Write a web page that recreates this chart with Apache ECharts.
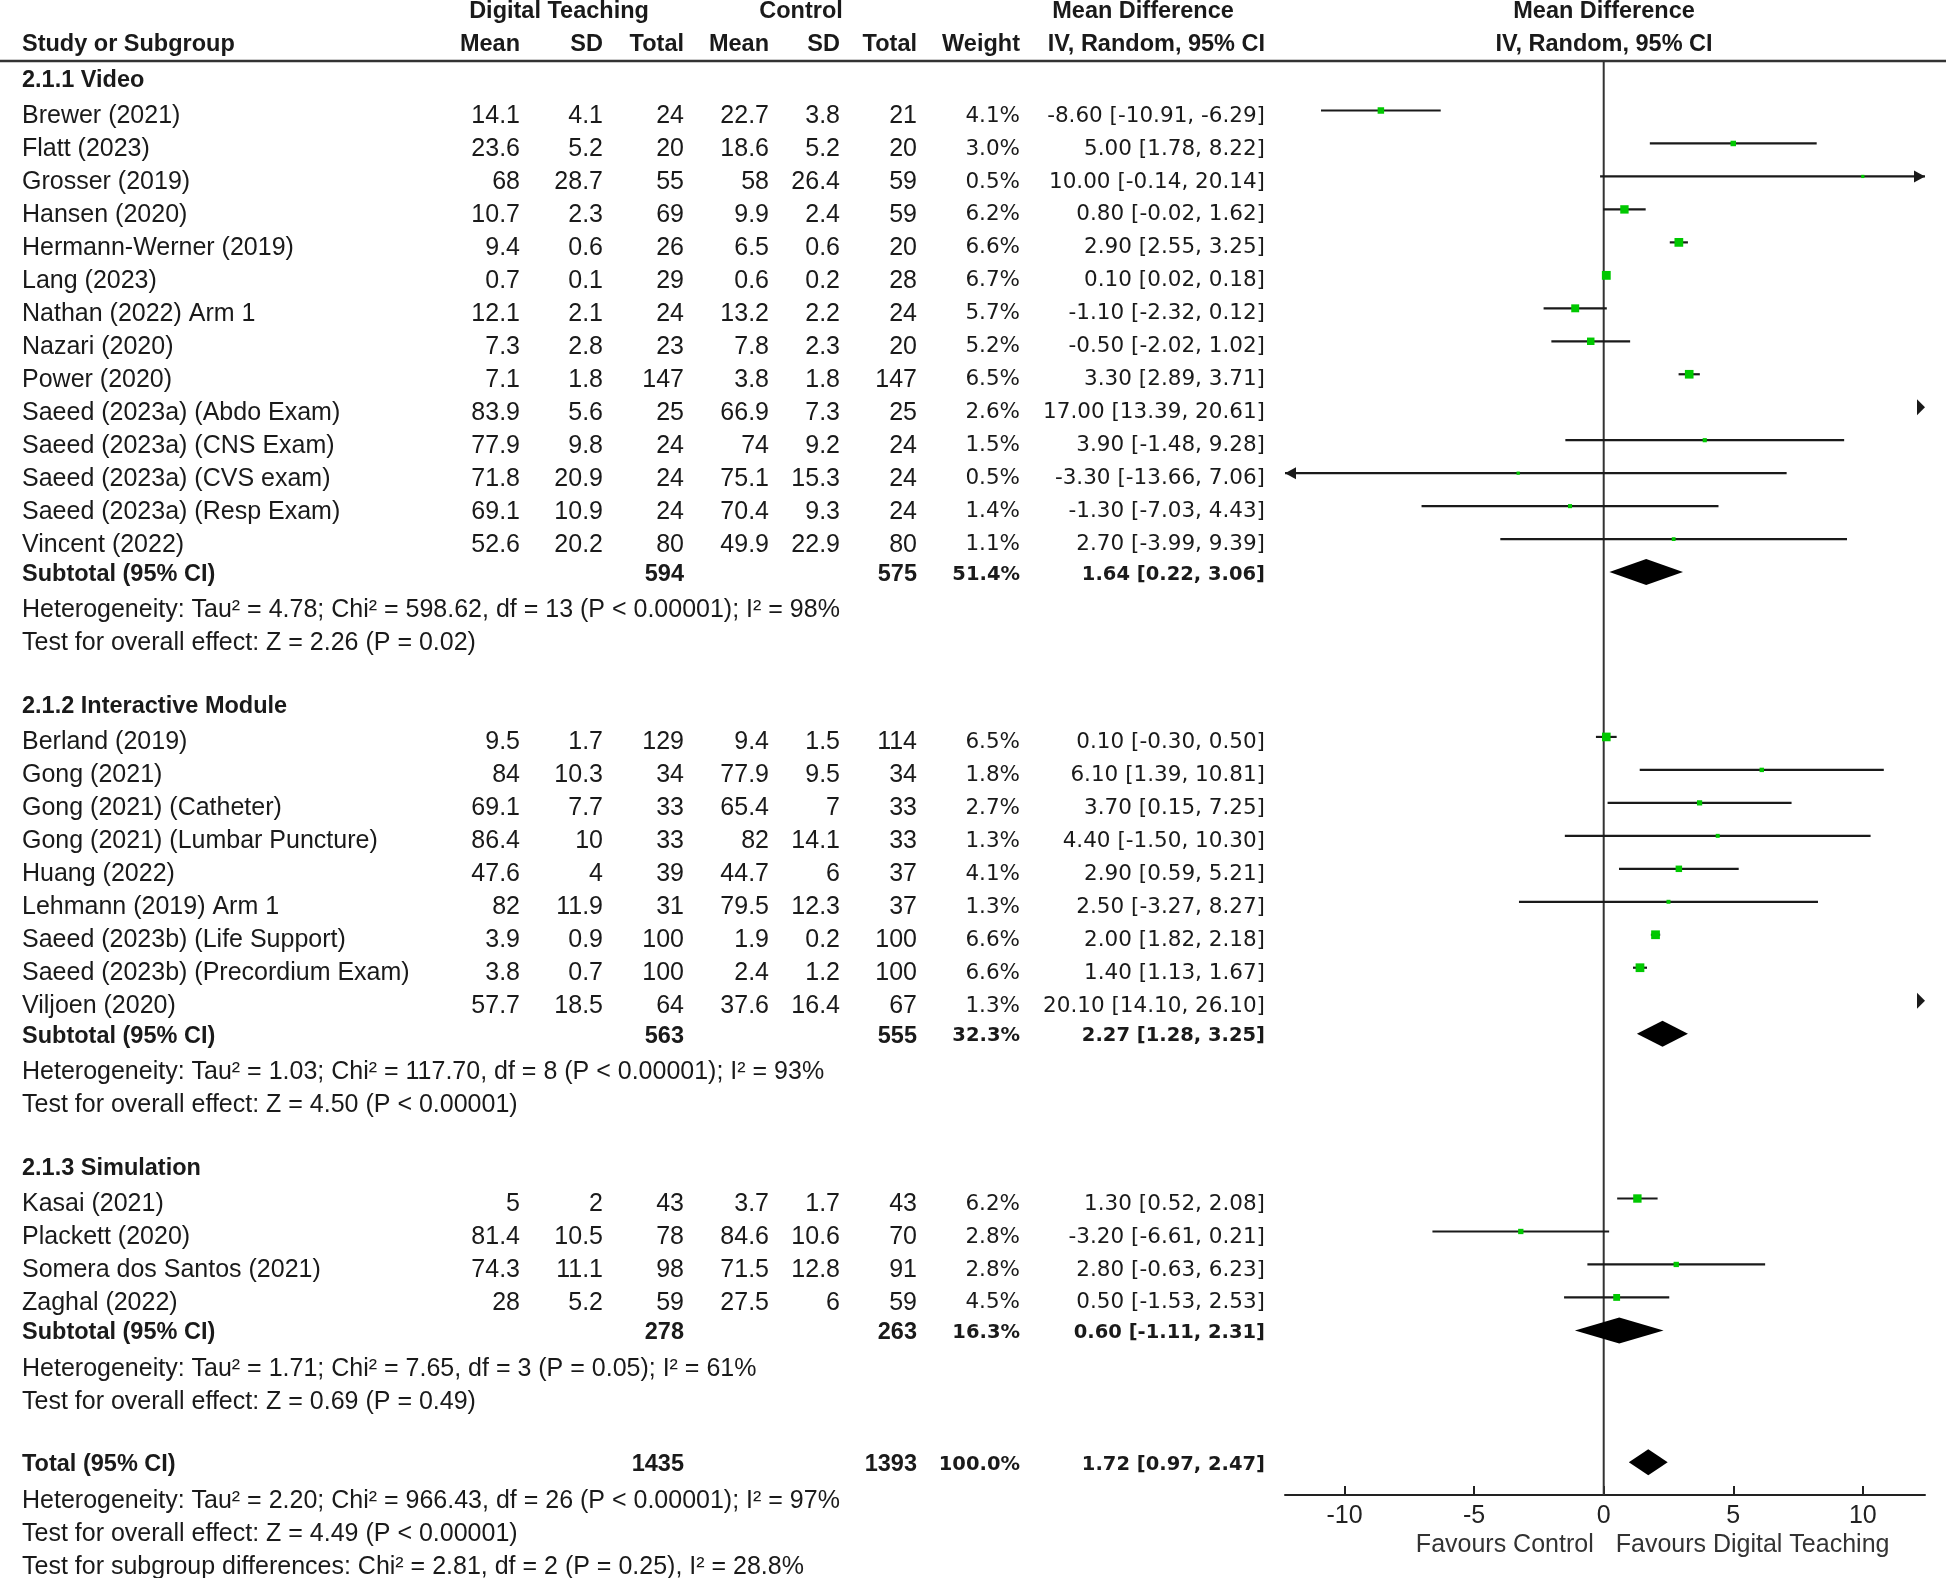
<!DOCTYPE html>
<html><head><meta charset="utf-8">
<script src="https://cdn.jsdelivr.net/npm/echarts@6/dist/echarts.min.js"></script>
<style>html,body{margin:0;padding:0;background:#fff}#chart{width:1946px;height:1578px}</style>
</head><body><div id="chart"></div>
<script>
// ---------------- DATA ----------------
const subgroupTitles = ['2.1.1 Video', '2.1.2 Interactive Module', '2.1.3 Simulation'];
const studies = [
  'Brewer (2021)', 'Flatt (2023)', 'Grosser (2019)', 'Hansen (2020)', 'Hermann-Werner (2019)', 'Lang (2023)',
  'Nathan (2022) Arm 1', 'Nazari (2020)', 'Power (2020)', 'Saeed (2023a) (Abdo Exam)', 'Saeed (2023a) (CNS Exam)',
  'Saeed (2023a) (CVS exam)', 'Saeed (2023a) (Resp Exam)', 'Vincent (2022)',
  'Berland (2019)', 'Gong (2021)', 'Gong (2021) (Catheter)', 'Gong (2021) (Lumbar Puncture)', 'Huang (2022)',
  'Lehmann (2019) Arm 1', 'Saeed (2023b) (Life Support)', 'Saeed (2023b) (Precordium Exam)', 'Viljoen (2020)',
  'Kasai (2021)', 'Plackett (2020)', 'Somera dos Santos (2021)', 'Zaghal (2022)'
];
const subgroupOf = [0,0,0,0,0,0,0,0,0,0,0,0,0,0, 1,1,1,1,1,1,1,1,1, 2,2,2,2];
const dtMean  = [14.1,23.6,68,10.7,9.4,0.7,12.1,7.3,7.1,83.9,77.9,71.8,69.1,52.6, 9.5,84,69.1,86.4,47.6,82,3.9,3.8,57.7, 5,81.4,74.3,28];
const dtSD    = [4.1,5.2,28.7,2.3,0.6,0.1,2.1,2.8,1.8,5.6,9.8,20.9,10.9,20.2, 1.7,10.3,7.7,10,4,11.9,0.9,0.7,18.5, 2,10.5,11.1,5.2];
const dtTotal = [24,20,55,69,26,29,24,23,147,25,24,24,24,80, 129,34,33,33,39,31,100,100,64, 43,78,98,59];
const ctMean  = [22.7,18.6,58,9.9,6.5,0.6,13.2,7.8,3.8,66.9,74,75.1,70.4,49.9, 9.4,77.9,65.4,82,44.7,79.5,1.9,2.4,37.6, 3.7,84.6,71.5,27.5];
const ctSD    = [3.8,5.2,26.4,2.4,0.6,0.2,2.2,2.3,1.8,7.3,9.2,15.3,9.3,22.9, 1.5,9.5,7,14.1,6,12.3,0.2,1.2,16.4, 1.7,10.6,12.8,6];
const ctTotal = [21,20,59,59,20,28,24,20,147,25,24,24,24,80, 114,34,33,33,37,37,100,100,67, 43,70,91,59];
const weightPct = [4.1,3.0,0.5,6.2,6.6,6.7,5.7,5.2,6.5,2.6,1.5,0.5,1.4,1.1, 6.5,1.8,2.7,1.3,4.1,1.3,6.6,6.6,1.3, 6.2,2.8,2.8,4.5];
const meanDiff = [-8.60,5.00,10.00,0.80,2.90,0.10,-1.10,-0.50,3.30,17.00,3.90,-3.30,-1.30,2.70, 0.10,6.10,3.70,4.40,2.90,2.50,2.00,1.40,20.10, 1.30,-3.20,2.80,0.50];
const ciLow  = [-10.91,1.78,-0.14,-0.02,2.55,0.02,-2.32,-2.02,2.89,13.39,-1.48,-13.66,-7.03,-3.99, -0.30,1.39,0.15,-1.50,0.59,-3.27,1.82,1.13,14.10, 0.52,-6.61,-0.63,-1.53];
const ciHigh = [-6.29,8.22,20.14,1.62,3.25,0.18,0.12,1.02,3.71,20.61,9.28,7.06,4.43,9.39, 0.50,10.81,7.25,10.30,5.21,8.27,2.18,1.67,26.10, 2.08,0.21,6.23,2.53];

const subDtTotal = [594, 563, 278];
const subCtTotal = [575, 555, 263];
const subWeight = [51.4, 32.3, 16.3];
const subMD = [1.64, 2.27, 0.60];
const subLow = [0.22, 1.28, -1.11];
const subHigh = [3.06, 3.25, 2.31];
const subHeterogeneity = [
  'Heterogeneity: Tau² = 4.78; Chi² = 598.62, df = 13 (P < 0.00001); I² = 98%',
  'Heterogeneity: Tau² = 1.03; Chi² = 117.70, df = 8 (P < 0.00001); I² = 93%',
  'Heterogeneity: Tau² = 1.71; Chi² = 7.65, df = 3 (P = 0.05); I² = 61%'
];
const subOverall = [
  'Test for overall effect: Z = 2.26 (P = 0.02)',
  'Test for overall effect: Z = 4.50 (P < 0.00001)',
  'Test for overall effect: Z = 0.69 (P = 0.49)'
];
const totalDt = 1435, totalCt = 1393, totalWeight = 100.0, totalMD = 1.72, totalLow = 0.97, totalHigh = 2.47;
const totalNotes = [
  'Heterogeneity: Tau² = 2.20; Chi² = 966.43, df = 26 (P < 0.00001); I² = 97%',
  'Test for overall effect: Z = 4.49 (P < 0.00001)',
  'Test for subgroup differences: Chi² = 2.81, df = 2 (P = 0.25), I² = 28.8%'
];
const subtotalLabel = 'Subtotal (95% CI)';
const totalLabel = 'Total (95% CI)';
const groupHeaders = ['Digital Teaching', 'Control', 'Mean Difference'];
const columnHeaders = ['Study or Subgroup', 'Mean', 'SD', 'Total', 'Mean', 'SD', 'Total', 'Weight', 'IV, Random, 95% CI'];
const plotHeaders = ['Mean Difference', 'IV, Random, 95% CI'];
const axisTickValues = [-10, -5, 0, 5, 10];
const favoursLabels = ['Favours Control', 'Favours Digital Teaching'];

// ---------------- LAYOUT ----------------
const W = 1946, H = 1578;
const ROW0 = 110.5, ROWH = 32.97;      // pixel y of first study row, row pitch
const AXIS_Y = 1495;                   // pixel y of the forest x-axis
const PLOT_L = 1285, PLOT_R = 1925;
const X_MIN = -12.3, X_MAX = 12.4;
const HDR1_Y = 12, HDR2_Y = 45, RULE_Y = 61;
const REG_DY = 5.5, BOLD_DY = 2.5;     // text sits a little lower than the row centre
const kAt = px => (px - ROW0) / ROWH;
const COL = { name: 22, dtMean: 520, dtSD: 603, dtTotal: 684, ctMean: 769, ctSD: 840, ctTotal: 917, weight: 1020, ci: 1265,
  dtGroup: 559, ctGroup: 801, mdGroup: 1143, plotCenter: 1604 };
const F = {
  bold: 'bold 23.5px "Liberation Sans", Arial, sans-serif',
  reg: '25px "Liberation Sans", Arial, sans-serif',
  num: '21.5px "DejaVu Sans", Verdana, sans-serif',
  numBold: 'bold 19.5px "DejaVu Sans", Verdana, sans-serif',
  axis: '25px "Liberation Sans", Arial, sans-serif'
};
const TEXT_COLOR = '#1a1a1a';

const texts = [], ciRows = [], diamondRows = [];
function addText(x, k, text, font, align, dy) { texts.push({ x, k, text: String(text), font, align, dy: dy || 0 }); }
const f2 = v => v.toFixed(2);
const ciText = (m, l, h) => `${f2(m)} [${f2(l)}, ${f2(h)}]`;

// headers
addText(COL.dtGroup, kAt(HDR1_Y), groupHeaders[0], F.bold, 'center');
addText(COL.ctGroup, kAt(HDR1_Y), groupHeaders[1], F.bold, 'center');
addText(COL.mdGroup, kAt(HDR1_Y), groupHeaders[2], F.bold, 'center');
addText(COL.plotCenter, kAt(HDR1_Y), plotHeaders[0], F.bold, 'center');
const hdrX = [COL.name, COL.dtMean, COL.dtSD, COL.dtTotal, COL.ctMean, COL.ctSD, COL.ctTotal, COL.weight, COL.ci];
columnHeaders.forEach((h, i) => addText(hdrX[i], kAt(HDR2_Y), h, F.bold, i === 0 ? 'left' : 'right'));
addText(COL.plotCenter, kAt(HDR2_Y), plotHeaders[1], F.bold, 'center');

let k = -1;
for (let g = 0; g < subgroupTitles.length; g++) {
  addText(COL.name, k, subgroupTitles[g], F.bold, 'left', BOLD_DY); k++;
  for (let i = 0; i < studies.length; i++) {
    if (subgroupOf[i] !== g) continue;
    addText(COL.name, k, studies[i], F.reg, 'left', REG_DY);
    addText(COL.dtMean, k, dtMean[i], F.reg, 'right', REG_DY);
    addText(COL.dtSD, k, dtSD[i], F.reg, 'right', REG_DY);
    addText(COL.dtTotal, k, dtTotal[i], F.reg, 'right', REG_DY);
    addText(COL.ctMean, k, ctMean[i], F.reg, 'right', REG_DY);
    addText(COL.ctSD, k, ctSD[i], F.reg, 'right', REG_DY);
    addText(COL.ctTotal, k, ctTotal[i], F.reg, 'right', REG_DY);
    addText(COL.weight, k, weightPct[i].toFixed(1) + '%', F.num, 'right', REG_DY);
    addText(COL.ci, k, ciText(meanDiff[i], ciLow[i], ciHigh[i]), F.num, 'right', REG_DY);
    ciRows.push([meanDiff[i], k, ciLow[i], ciHigh[i], weightPct[i]]);
    k++;
  }
  addText(COL.name, k, subtotalLabel, F.bold, 'left', BOLD_DY);
  addText(COL.dtTotal, k, subDtTotal[g], F.bold, 'right', BOLD_DY);
  addText(COL.ctTotal, k, subCtTotal[g], F.bold, 'right', BOLD_DY);
  addText(COL.weight, k, subWeight[g].toFixed(1) + '%', F.numBold, 'right', BOLD_DY);
  addText(COL.ci, k, ciText(subMD[g], subLow[g], subHigh[g]), F.numBold, 'right', BOLD_DY);
  diamondRows.push([subMD[g], k, subLow[g], subHigh[g]]);
  k++;
  addText(COL.name, k, subHeterogeneity[g], F.reg, 'left', REG_DY); k++;
  addText(COL.name, k, subOverall[g], F.reg, 'left', REG_DY); k++;
  k++;
}
addText(COL.name, k, totalLabel, F.bold, 'left', BOLD_DY);
addText(COL.dtTotal, k, totalDt, F.bold, 'right', BOLD_DY);
addText(COL.ctTotal, k, totalCt, F.bold, 'right', BOLD_DY);
addText(COL.weight, k, totalWeight.toFixed(1) + '%', F.numBold, 'right', BOLD_DY);
addText(COL.ci, k, ciText(totalMD, totalLow, totalHigh), F.numBold, 'right', BOLD_DY);
diamondRows.push([totalMD, k, totalLow, totalHigh]);
k++;
totalNotes.forEach(t => { addText(COL.name, k, t, F.reg, 'left', REG_DY); k++; });

// ---------------- CHART ----------------
const chart = echarts.init(document.getElementById('chart'), null, { renderer: 'canvas' });
const yMinRow = -ROW0 / ROWH;

const option = {
  animation: false,
  backgroundColor: '#ffffff',
  grid: [
    { left: 0, top: 0, width: W, height: H, containLabel: false, outerBoundsMode: 'none' },
    { left: PLOT_L, top: 0, width: PLOT_R - PLOT_L, height: AXIS_Y, containLabel: false, outerBoundsMode: 'none' }
  ],
  xAxis: [
    { gridIndex: 0, type: 'value', min: 0, max: W, show: false },
    { gridIndex: 1, type: 'value', min: X_MIN, max: X_MAX,
      axisLine: { show: true, onZero: false, lineStyle: { color: '#222', width: 2 } },
      axisTick: { show: true, inside: true, length: 9, customValues: axisTickValues, lineStyle: { color: '#222', width: 2 } },
      axisLabel: { customValues: axisTickValues, margin: 9, color: '#222', fontSize: 25, fontFamily: '"Liberation Sans", Arial, sans-serif' },
      splitLine: { show: false } }
  ],
  yAxis: [
    { gridIndex: 0, type: 'value', inverse: true, min: yMinRow, max: (H - ROW0) / ROWH, show: false },
    { gridIndex: 1, type: 'value', inverse: true, min: yMinRow, max: (AXIS_Y - ROW0) / ROWH, show: false }
  ],
  series: [
    { // header rule
      type: 'custom', xAxisIndex: 0, yAxisIndex: 0, silent: true,
      data: [[0, kAt(RULE_Y)]],
      renderItem: (params, api) => {
        const p0 = api.coord([0, api.value(1)]), p1 = api.coord([W, api.value(1)]);
        return { type: 'line', shape: { x1: p0[0], y1: p0[1], x2: p1[0], y2: p1[1] }, style: { stroke: '#333', lineWidth: 2.5 } };
      }
    },
    { // table text
      type: 'custom', xAxisIndex: 0, yAxisIndex: 0, silent: true,
      data: texts.map((t, i) => [t.x, t.k, i]),
      renderItem: (params, api) => {
        const t = texts[api.value(2)];
        const p = api.coord([api.value(0), api.value(1)]);
        return { type: 'text', x: p[0], y: p[1] + t.dy, style: { text: t.text, font: t.font, fill: TEXT_COLOR, align: t.align, verticalAlign: 'middle' } };
      }
    },
    { // zero line + favours labels
      type: 'custom', xAxisIndex: 1, yAxisIndex: 1, silent: true, clip: false, z: 1,
      data: [[0, kAt(RULE_Y)]],
      renderItem: (params, api) => {
        const cs = params.coordSys;
        const top = api.coord([0, api.value(1)]);
        const bottom = cs.y + cs.height;
        const ly = bottom + 50;
        return { type: 'group', children: [
          { type: 'line', shape: { x1: top[0], y1: top[1], x2: top[0], y2: bottom }, style: { stroke: '#333', lineWidth: 2 } },
          { type: 'text', x: top[0] - 10, y: ly, style: { text: favoursLabels[0], font: F.axis, fill: '#333', align: 'right', verticalAlign: 'middle' } },
          { type: 'text', x: top[0] + 12, y: ly, style: { text: favoursLabels[1], font: F.axis, fill: '#333', align: 'left', verticalAlign: 'middle' } }
        ] };
      }
    },
    { // study CIs and squares
      type: 'custom', xAxisIndex: 1, yAxisIndex: 1, silent: true, clip: false, z: 3,
      data: ciRows,
      renderItem: (params, api) => {
        const cs = params.coordSys;
        const left = cs.x, right = cs.x + cs.width;
        const md = api.value(0), kk = api.value(1), lo = api.value(2), hi = api.value(3), w = api.value(4);
        const y = api.coord([0, kk])[1];
        const xlo = api.coord([lo, kk])[0], xhi = api.coord([hi, kk])[0], xm = api.coord([md, kk])[0];
        const ch = [];
        const ink = '#1a1a1a';
        if (xlo >= right) {
          ch.push({ type: 'polygon', shape: { points: [[right - 8, y - 8], [right, y], [right - 8, y + 8]] }, style: { fill: ink } });
        } else if (xhi <= left) {
          ch.push({ type: 'polygon', shape: { points: [[left + 8, y - 8], [left, y], [left + 8, y + 8]] }, style: { fill: ink } });
        } else {
          const a = Math.max(xlo, left), b = Math.min(xhi, right);
          ch.push({ type: 'line', shape: { x1: a, y1: y, x2: b, y2: y }, style: { stroke: ink, lineWidth: 2.2 } });
          if (xlo < left) ch.push({ type: 'polygon', shape: { points: [[left + 11, y - 6], [left, y], [left + 11, y + 6]] }, style: { fill: ink } });
          if (xhi > right) ch.push({ type: 'polygon', shape: { points: [[right - 11, y - 6], [right, y], [right - 11, y + 6]] }, style: { fill: ink } });
          if (xm >= left && xm <= right) {
            const s = 2.8 + 0.9 * w;
            ch.push({ type: 'rect', shape: { x: xm - s / 2, y: y - s / 2, width: s, height: s }, style: { fill: '#00c800' } });
          }
        }
        return { type: 'group', children: ch };
      }
    },
    { // pooled diamonds
      type: 'custom', xAxisIndex: 1, yAxisIndex: 1, silent: true, clip: false, z: 3,
      data: diamondRows,
      renderItem: (params, api) => {
        const md = api.value(0), kk = api.value(1), lo = api.value(2), hi = api.value(3);
        const y = api.coord([0, kk])[1];
        const xl = api.coord([lo, kk])[0], xr = api.coord([hi, kk])[0], xm = api.coord([md, kk])[0];
        const h = 13;
        return { type: 'polygon', shape: { points: [[xl, y], [xm, y - h], [xr, y], [xm, y + h]] }, style: { fill: '#000' } };
      }
    }
  ]
};
chart.setOption(option);
</script>
</body></html>
